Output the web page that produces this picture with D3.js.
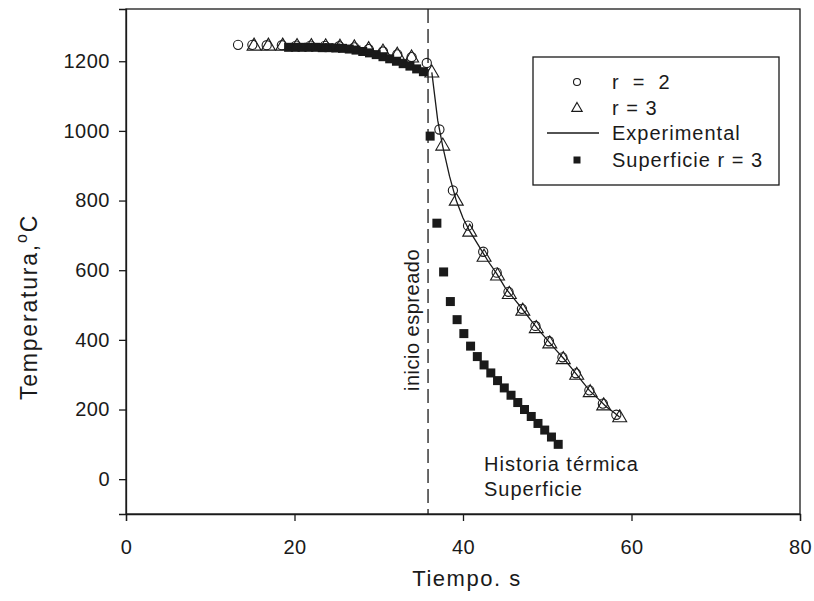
<!DOCTYPE html>
<html lang="es">
<head>
<meta charset="UTF-8">
<title>Temperatura vs Tiempo</title>
<script src="https://d3js.org/d3.v7.min.js"></script>
<style>
  body { margin: 0; background: #fff; }
  svg text { font-family: "Liberation Sans", Arial, sans-serif; fill: #1a1a1a; white-space: pre; }
  .tick line, .domain { stroke: #1a1a1a; stroke-width: 1.3; }
</style>
</head>
<body>
<svg id="chart" width="814" height="601"></svg>
<script>
// r = 2 (circulos)
const r2Time = [13.3, 15.0, 16.7, 18.5, 20.2, 21.9, 23.6, 25.3, 27.1, 28.8, 30.5, 32.2, 33.9, 35.7,
                37.2, 38.8, 40.6, 42.4, 44.0, 45.4, 47.0, 48.6, 50.2, 51.8, 53.4, 55.0, 56.6, 58.2];
const r2Temp = [1247, 1247, 1246, 1246, 1245, 1245, 1244, 1243, 1240, 1235, 1228, 1220, 1212, 1195,
                1004, 829, 728, 653, 593, 538, 489, 440, 396, 350, 304, 255, 217, 185];

// r = 3 (triangulos)
const r3Time = [15.2, 16.9, 18.6, 20.3, 22.0, 23.7, 25.4, 27.1, 28.8, 30.5, 32.2, 33.9,
                36.3, 37.6, 39.2, 40.8, 42.5, 44.1, 45.5, 47.1, 48.7, 50.3, 51.9, 53.5, 55.1, 56.7, 58.6];
const r3Temp = [1245, 1245, 1245, 1244, 1244, 1243, 1242, 1240, 1235, 1228, 1219, 1211,
                1168, 958, 800, 711, 639, 585, 532, 484, 434, 390, 345, 300, 250, 212, 178];

// Experimental
const expTime = [36.3, 37.0, 37.6, 38.4, 39.2, 40.0, 40.8, 42.0, 43.0, 44.0, 45.0, 46.0, 47.0, 48.0,
                 49.0, 50.0, 51.0, 52.0, 53.0, 54.0, 55.0, 56.0, 57.0, 58.0, 58.6];
const expTemp = [1168, 1030, 955, 870, 800, 750, 712, 665, 625, 590, 550, 520, 490, 458,
                 428, 400, 372, 345, 315, 285, 255, 232, 208, 190, 178];

// Superficie r = 3 (cuadrados)
const supTime = [19.3, 20.1, 20.9, 21.7, 22.5, 23.3, 24.1, 24.9, 25.7, 26.5, 27.3, 28.1, 28.9, 29.7,
                 30.5, 31.3, 32.1, 32.9, 33.7, 34.5, 35.3,
                 36.1, 36.9, 37.7, 38.5, 39.3, 40.1, 40.9, 41.7, 42.5, 43.3, 44.1, 44.9, 45.7,
                 46.5, 47.3, 48.1, 48.9, 49.7, 50.5, 51.3];
const supTemp = [1240, 1240, 1240, 1240, 1240, 1239, 1239, 1238, 1237, 1235, 1232, 1228, 1224, 1219,
                 1213, 1207, 1200, 1193, 1186, 1178, 1170,
                 985, 735, 595, 510, 458, 418, 382, 352, 328, 305, 283, 262, 241,
                 220, 200, 180, 160, 141, 121, 100];

const xTicks = [0, 20, 40, 60, 80];
const yTicks = [0, 200, 400, 600, 800, 1000, 1200];
const inicioTime = 35.85;

const legendLabels = ["r  =  2", "r = 3", "Experimental", "Superficie r = 3"];

const svg = d3.select("#chart");
const plot = {left: 126, right: 800, top: 9, bottom: 514};
const ink = "#1a1a1a";

const x = d3.scaleLinear().domain([0, 80]).range([plot.left, plot.right]);
const y = d3.scaleLinear().domain([-100, 1350]).range([plot.bottom, plot.top]);

// frame
svg.append("rect")
    .attr("x", plot.left).attr("y", plot.top)
    .attr("width", plot.right - plot.left).attr("height", plot.bottom - plot.top)
    .attr("fill", "none").attr("stroke", ink).attr("stroke-width", 1.3);

const xAxis = svg.append("g")
    .attr("transform", `translate(0,${plot.bottom})`)
    .call(d3.axisBottom(x).tickValues(xTicks).tickSize(7).tickPadding(19).tickFormat(d3.format("d")));
xAxis.selectAll("text").style("font-size", "20px").style("letter-spacing", "0.5px");

const yAxis = svg.append("g")
    .attr("transform", `translate(${plot.left},0)`)
    .call(d3.axisLeft(y).tickValues(yTicks).tickSize(7).tickPadding(9).tickFormat(d3.format("d")));
yAxis.selectAll("text").style("font-size", "20px").style("letter-spacing", "0.5px");

// axis titles
svg.append("text")
    .attr("x", 467).attr("y", 586)
    .attr("text-anchor", "middle")
    .style("font-size", "22px")
    .style("letter-spacing", "1.5px")
    .text("Tiempo. s");

const yTitle = svg.append("text")
    .attr("transform", "translate(37,307) rotate(-90)")
    .attr("text-anchor", "middle")
    .style("font-size", "23px")
    .style("letter-spacing", "1.8px");
yTitle.append("tspan").text("Temperatura,");
yTitle.append("tspan").attr("dy", -10).style("font-size", "16px").text("o");
yTitle.append("tspan").attr("dy", 10).text("C");

// inicio line
svg.append("line")
    .attr("x1", x(inicioTime)).attr("x2", x(inicioTime))
    .attr("y1", plot.top).attr("y2", plot.bottom)
    .attr("stroke", ink).attr("stroke-width", 1.3)
    .attr("stroke-dasharray", "14,6");

svg.append("text")
    .attr("transform", `translate(${x(inicioTime) - 9},320) rotate(-90)`)
    .attr("text-anchor", "middle")
    .style("font-size", "20px")
    .style("letter-spacing", "0.5px")
    .text("inicio espreado");

const triPath = s => `M0,${-s * 0.62}L${s * 0.58},${s * 0.38}L${-s * 0.58},${s * 0.38}Z`;

// superficie squares
const sq = 9;
svg.append("g").selectAll("rect")
    .data(d3.zip(supTime, supTemp))
    .join("rect")
    .attr("x", d => x(d[0]) - sq / 2)
    .attr("y", d => y(d[1]) - sq / 2)
    .attr("width", sq).attr("height", sq)
    .attr("fill", ink);

// experimental line
svg.append("path")
    .datum(d3.zip(expTime, expTemp))
    .attr("fill", "none").attr("stroke", ink).attr("stroke-width", 1.3)
    .attr("d", d3.line().x(d => x(d[0])).y(d => y(d[1])));

// r = 3 triangles
svg.append("g").selectAll("path")
    .data(d3.zip(r3Time, r3Temp))
    .join("path")
    .attr("transform", d => `translate(${x(d[0])},${y(d[1])})`)
    .attr("d", triPath(12))
    .attr("fill", "none").attr("stroke", ink).attr("stroke-width", 1.1);

// r = 2 circles
svg.append("g").selectAll("circle")
    .data(d3.zip(r2Time, r2Temp))
    .join("circle")
    .attr("cx", d => x(d[0])).attr("cy", d => y(d[1]))
    .attr("r", 4.6)
    .attr("fill", "none").attr("stroke", ink).attr("stroke-width", 1.1);

// annotation
svg.append("text").attr("x", 484).attr("y", 471)
    .style("font-size", "20px").style("letter-spacing", "1px").text("Historia térmica");
svg.append("text").attr("x", 484).attr("y", 496)
    .style("font-size", "20px").style("letter-spacing", "1px").text("Superficie");

// legend
const lg = svg.append("g");
lg.append("rect")
    .attr("x", 533).attr("y", 57).attr("width", 246).attr("height", 128)
    .attr("fill", "#fff").attr("stroke", ink).attr("stroke-width", 1.3);

const rowY = [82, 108, 133, 160];
const mx = 577;
lg.append("circle").attr("cx", mx).attr("cy", rowY[0]).attr("r", 3.5)
    .attr("fill", "none").attr("stroke", ink).attr("stroke-width", 1.1);
lg.append("path").attr("transform", `translate(${mx},${rowY[1]})`).attr("d", triPath(9))
    .attr("fill", "none").attr("stroke", ink).attr("stroke-width", 1.1);
lg.append("line").attr("x1", 547).attr("x2", 599).attr("y1", rowY[2]).attr("y2", rowY[2])
    .attr("stroke", ink).attr("stroke-width", 1.3);
lg.append("rect").attr("x", mx - 3.5).attr("y", rowY[3] - 3.5).attr("width", 7).attr("height", 7)
    .attr("fill", ink);

lg.selectAll("text.lbl")
    .data(legendLabels)
    .join("text")
    .attr("class", "lbl")
    .attr("x", 612)
    .attr("y", (d, i) => rowY[i] + 7)
    .style("font-size", "20px")
    .style("letter-spacing", "1px")
    .text(d => d);
</script>
</body>
</html>
